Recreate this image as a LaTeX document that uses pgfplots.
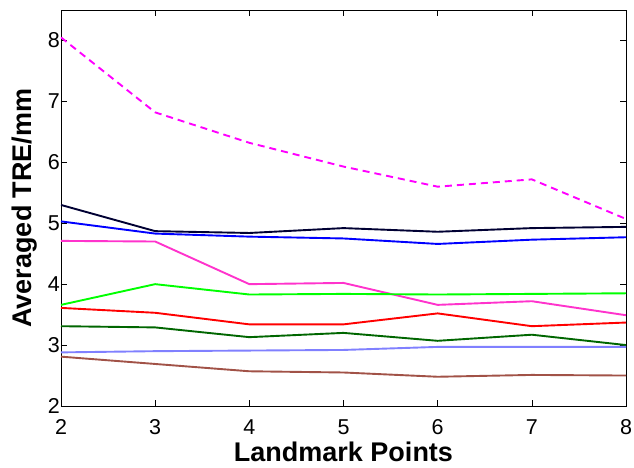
\documentclass[border=0pt]{standalone}
\usepackage{pgfplots}
\pgfplotsset{compat=1.18}
\usepackage{fontspec}
\setmainfont{Liberation Sans}
\definecolor{mag}{rgb}{1.0,0.0,1.0}
\definecolor{navy}{rgb}{0.0,0.0,0.2}
\definecolor{hpink}{rgb}{1.0,0.2,0.8}
\definecolor{lgreen}{rgb}{0.0,1.0,0.0}
\definecolor{dgreen}{rgb}{0.0,0.4,0.0}
\definecolor{lblue}{rgb}{0.5,0.5,1.0}
\definecolor{brn}{rgb}{0.63,0.32,0.28}
\begin{document}
\begin{tikzpicture}
\begin{axis}[
  scale only axis,
  width=565pt, height=396pt,
  xmin=2, xmax=8, ymin=2, ymax=8.5,
  xtick={2,3,4,5,6,7,8},
  ytick={2,3,4,5,6,7,8},
  tick align=inside,
  major tick length=6pt,
  tick style={black, line width=0.6pt},
  axis line style={black, line width=0.8pt},
  /pgf/number format/assume math mode=true,
  ticklabel style={font=\fontsize{21.5}{25}\selectfont},
  xticklabel style={anchor=base, inner sep=0pt, yshift=-28pt},
  yticklabel style={anchor=east, inner sep=0pt, xshift=-1pt},
  xlabel={\textbf{Landmark Points}},
  ylabel={\textbf{Averaged TRE/mm}},
  label style={font=\fontsize{27}{30}\selectfont, inner sep=0pt},
  xlabel style={at={(axis description cs:0.5,0)}, anchor=base, yshift=-55pt},
  ylabel style={at={(axis description cs:0,0.5)}, anchor=base, yshift=29pt},
  every axis plot/.append style={line width=1.9pt},
  clip=true,
]
\addplot[mag, dash pattern=on 7pt off 5pt] coordinates {(2,8.05) (3,6.82) (4,6.32) (5,5.93) (6,5.6) (7,5.72) (8,5.07)};
\addplot[navy] coordinates {(2,5.3) (3,4.87) (4,4.84) (5,4.92) (6,4.86) (7,4.92) (8,4.94)};
\addplot[blue] coordinates {(2,5.03) (3,4.83) (4,4.78) (5,4.75) (6,4.66) (7,4.73) (8,4.77)};
\addplot[hpink] coordinates {(2,4.71) (3,4.70) (4,4.00) (5,4.02) (6,3.66) (7,3.72) (8,3.49)};
\addplot[lgreen] coordinates {(2,3.66) (3,4.00) (4,3.83) (5,3.84) (6,3.83) (7,3.84) (8,3.85)};
\addplot[red] coordinates {(2,3.61) (3,3.53) (4,3.34) (5,3.34) (6,3.52) (7,3.31) (8,3.37)};
\addplot[dgreen] coordinates {(2,3.31) (3,3.29) (4,3.13) (5,3.20) (6,3.07) (7,3.17) (8,3.00)};
\addplot[lblue] coordinates {(2,2.88) (3,2.90) (4,2.91) (5,2.92) (6,2.97) (7,2.97) (8,2.97)};
\addplot[brn] coordinates {(2,2.81) (3,2.69) (4,2.57) (5,2.55) (6,2.48) (7,2.51) (8,2.50)};
\coordinate (bl) at (rel axis cs:0,0);
\coordinate (tr) at (rel axis cs:1,1);
\end{axis}
\pgfresetboundingbox
\path ([xshift=-61pt,yshift=-62pt]bl) rectangle ([xshift=8pt,yshift=10pt]tr);
\end{tikzpicture}
\end{document}
